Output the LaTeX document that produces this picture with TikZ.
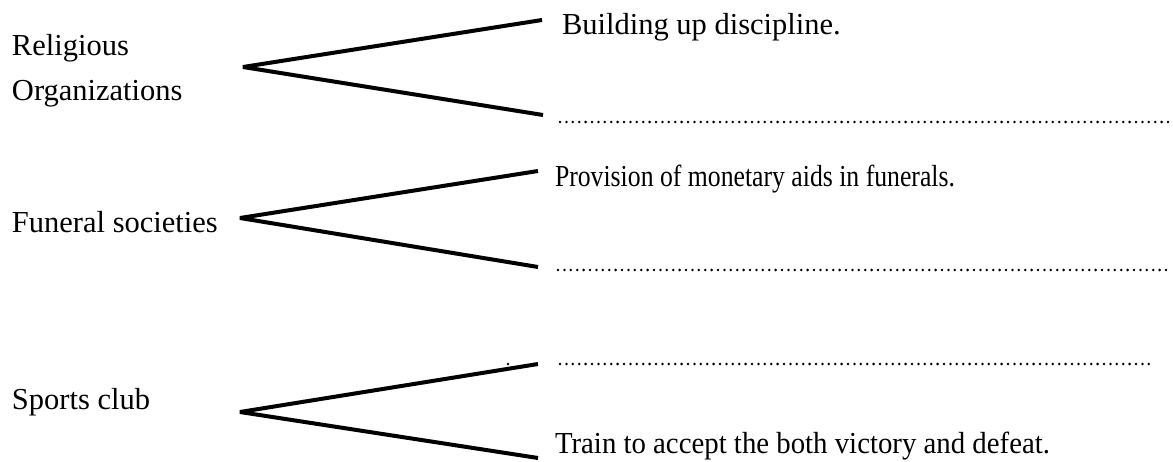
\documentclass[tikz,border=0pt]{standalone}
\usepackage{fontspec}
\setmainfont{Liberation Serif}
\usepackage{graphicx}
\tikzset{
  lbl/.style={anchor=base west, inner sep=0pt, outer sep=0pt, font=\fontsize{30.5}{36}\selectfont},
  branch/.style={line width=4pt, line join=bevel, black},
  dots/.style={line width=2.8pt, line cap=round, dash pattern=on 0pt off 6.4pt, black}
}
\begin{document}
\begin{tikzpicture}[x=1pt,y=-1pt]
\useasboundingbox (0,0) rectangle (1173,462);
% left labels
\node[lbl] (rel1) at (12,56) {Religious};
\node[lbl] (rel2) at (12,101) {Organizations};
\node[lbl] (fun) at (12,233) {Funeral societies};
\node[lbl] (spo) at (12,409) {Sports club};
% right labels
\node[lbl] (bui) at (562,35) {Building up discipline.};
\node[lbl] (pro) at (555,187) {\resizebox{400pt}{\height}{Provision of monetary aids in funerals.}};
\node[lbl] (tra) at (555,453) {\resizebox{495pt}{\height}{Train to accept the both victory and defeat.}};
% branch coordinates
\coordinate (a1) at (243,67);
\coordinate (u1) at (542,20);
\coordinate (l1) at (543,115);
\coordinate (a2) at (240,218);
\coordinate (u2) at (538,171);
\coordinate (l2) at (538,267);
\coordinate (a3) at (240,412);
\coordinate (u3) at (538,364);
\coordinate (l3) at (538,458);
\draw[branch] (u1) -- (a1) -- (l1);
\draw[branch] (u2) -- (a2) -- (l2);
\draw[branch] (u3) -- (a3) -- (l3);
% dotted answer lines
\coordinate (d1s) at (560,122);
\coordinate (d1e) at (1168,122);
\coordinate (d2s) at (558,270);
\coordinate (d2e) at (1168,270);
\coordinate (d3s) at (560,364);
\coordinate (d3e) at (1153,364);
\draw[dots] (d1s) -- (d1e);
\draw[dots] (d2s) -- (d2e);
\draw[dots] (d3s) -- (d3e);
% stray dot
\coordinate (sd) at (508,364);
\fill (sd) circle (1.3pt);
\end{tikzpicture}
\end{document}
